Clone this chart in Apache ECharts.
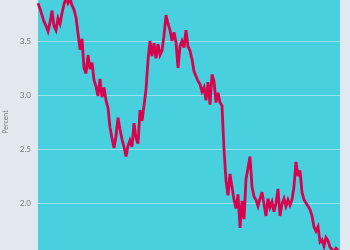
<!DOCTYPE html>
<html>
<head>
<meta charset="utf-8">
<script src="https://cdn.jsdelivr.net/npm/echarts@6/dist/echarts.min.js"></script>
<style>
html,body{margin:0;padding:0;background:#e2e8f0;}
#chart{width:350px;height:250px;}
</style>
</head>
<body>
<div id="chart"></div>
<script>
var yTicks = [1.5, 2.0, 2.5, 3.0, 3.5, 4.0];
var rates = [
3.85,3.80,3.74,3.68,3.64,3.59,3.67,3.78,3.64,3.60,3.71,3.66,3.76,3.84,3.90,3.85,3.89,3.83,3.79,3.72,
3.57,3.42,3.52,3.25,3.20,3.37,3.24,3.30,3.14,3.08,2.99,3.15,2.98,3.07,2.95,2.88,2.70,2.60,2.51,2.62,
2.79,2.68,2.59,2.52,2.43,2.53,2.58,2.52,2.74,2.60,2.55,2.86,2.76,2.90,3.05,3.32,3.50,3.36,3.48,3.34,
3.47,3.37,3.41,3.55,3.74,3.66,3.60,3.50,3.58,3.49,3.25,3.45,3.50,3.44,3.60,3.45,3.41,3.33,3.22,3.23,
3.13,3.10,3.03,3.07,2.95,3.12,2.91,3.19,3.13,2.93,3.02,2.93,2.90,2.50,2.21,2.07,2.27,2.15,2.03,1.95,
2.08,1.77,2.02,1.85,2.22,2.21,2.43,2.15,2.06,2.03,1.97,2.04,2.10,1.99,1.88,2.04,1.96,2.01,1.92,2.00,
2.13,1.88,1.99,2.04,1.97,2.03,1.98,2.03,2.15,2.38,2.25,2.30,2.10,2.03,2.00,1.97,1.94,1.88,1.78,1.74,
1.78,1.64,1.66,1.60,1.68,1.65,1.59,1.57,1.55,1.58,1.56,1.55
];
var periods = rates.map(function(_, i){ return String(i + 1); });

var chart = echarts.init(document.getElementById('chart'), null, {renderer: 'canvas'});
chart.setOption({
  backgroundColor: '#e2e8f0',
  animation: false,
  grid: {
    left: 38, right: 10, top: -13, bottom: -7,
    show: true, backgroundColor: '#48d0df', borderWidth: 0,
    outerBoundsMode: 'none'
  },
  xAxis: {
    type: 'category',
    data: periods,
    boundaryGap: false,
    show: false
  },
  yAxis: {
    type: 'value',
    min: yTicks[0], max: yTicks[yTicks.length - 1], interval: 0.5,
    name: 'Percent',
    nameLocation: 'middle',
    nameGap: 27,
    nameTextStyle: {color: '#777', fontSize: 7, fontFamily: 'Lato'},
    axisLine: {show: false},
    axisTick: {show: false},
    axisLabel: {
      color: '#777', fontSize: 8, fontFamily: 'Lato', margin: 7,
      formatter: function(v){ return v.toFixed(1); }
    },
    splitLine: {show: true, lineStyle: {color: '#95e0ea', width: 1}}
  },
  series: [{
    type: 'line',
    data: rates,
    showSymbol: false,
    lineStyle: {color: '#d6044f', width: 2.8, join: 'miter', miterLimit: 4},
    itemStyle: {color: '#d6044f'}
  }]
});
</script>
</body>
</html>
